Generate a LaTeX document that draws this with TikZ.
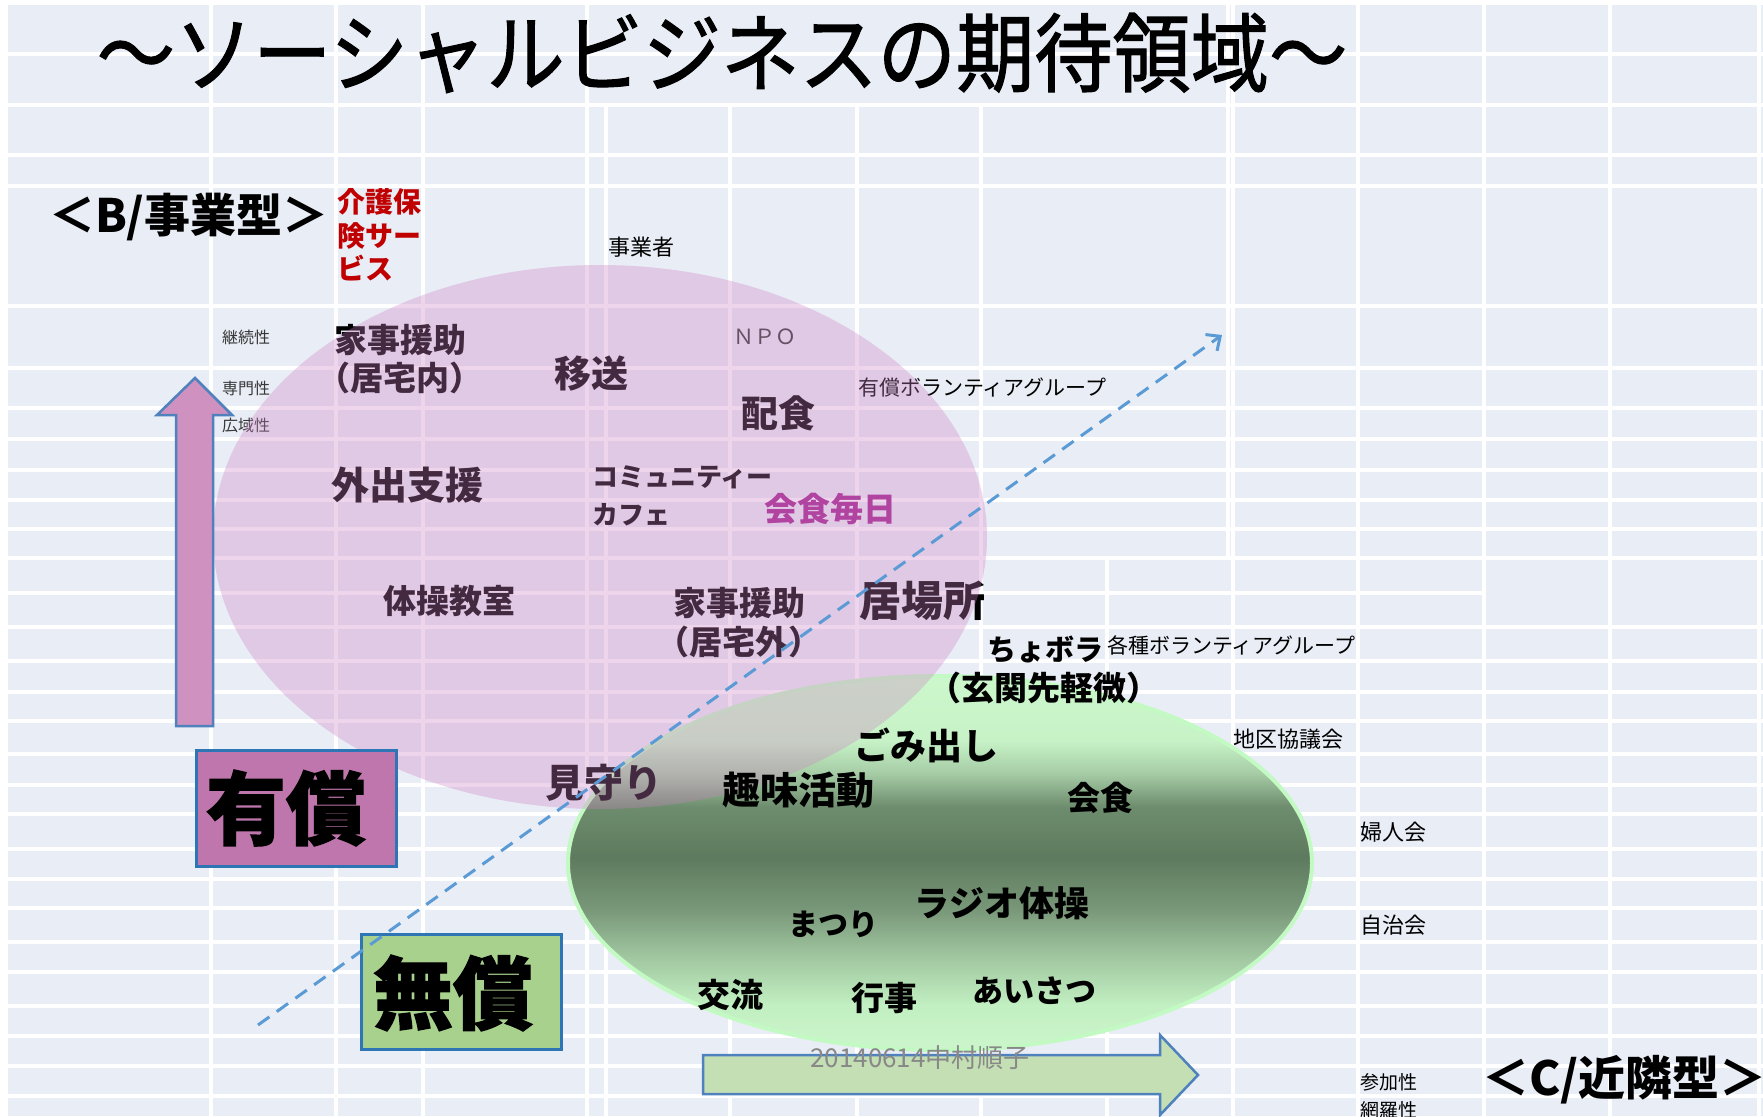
\documentclass[tikz,border=0pt]{standalone}
\usepackage{fontspec}
\setmainfont{Noto Sans CJK JP}
\newfontfamily\heavyjp[FakeBold=1.6]{Noto Sans CJK JP}
\newfontfamily\titlejp[FakeBold=1.3]{Noto Sans CJK JP}
\usetikzlibrary{arrows.meta}
\definecolor{bgc}{RGB}{233,237,246}
\definecolor{pinkell}{RGB}{205,130,195}
\definecolor{redtxt}{RGB}{192,0,0}
\definecolor{magtxt}{RGB}{176,68,160}
\definecolor{uparrowfill}{RGB}{207,145,192}
\definecolor{arrowedge}{RGB}{79,129,189}
\definecolor{boxedge}{RGB}{46,117,182}
\definecolor{paidbox}{RGB}{190,118,172}
\definecolor{freebox}{RGB}{169,209,142}
\definecolor{rarrowfill}{RGB}{196,223,180}
\definecolor{dashblue}{RGB}{91,155,213}
\definecolor{elledge}{RGB}{195,250,195}
\definecolor{smallgray}{RGB}{55,55,55}
\definecolor{dategray}{RGB}{136,136,136}
\pgfdeclareverticalshading{greenell}{100bp}{rgb(0bp)=(0.80,0.96,0.80); rgb(25bp)=(0.80,0.96,0.80); rgb(31bp)=(0.76,0.94,0.76); rgb(37.4bp)=(0.63,0.78,0.63); rgb(44bp)=(0.47,0.59,0.47); rgb(50.8bp)=(0.37,0.48,0.37); rgb(57.5bp)=(0.43,0.55,0.43); rgb(62bp)=(0.65,0.80,0.65); rgb(66.4bp)=(0.78,0.95,0.78); rgb(75bp)=(0.80,0.97,0.80); rgb(100bp)=(0.80,0.97,0.80)}
\newcommand\sz[2]{\fontsize{#1}{#2}\selectfont}
\tikzset{
  tx/.style={inner sep=0pt, outer sep=0pt},
  bx/.style={tx, font=\bfseries},
  small/.style={tx, anchor=west, text=smallgray},
  gridline/.style={white, line width=3.5pt},
  boxstyle/.style={draw=boxedge, line width=2.5pt},
  blockarrow/.style={draw=arrowedge, line width=2.5pt, line join=miter},
  dasharrow/.style={dashblue, line width=3pt, dash pattern=on 14pt off 9pt, -{Straight Barb[length=11pt,width=20pt]}}
}
\begin{document}
\begin{tikzpicture}[x=1pt,y=-1pt]
\useasboundingbox (0,0) rectangle (1763,1116);
% background grid
\fill[white] (0,0) rectangle (1763,1116);
\fill[bgc] (8,5) rectangle (1763,1116);
\begin{scope}[gridline]
  \foreach \y in {54,105,155,186,306,368,408,439,470,500,529,558,627,661,692,721,754,785,814,849,879,908,942,972,1006,1036,1066,1096}
    \draw (8,\y) -- (1763,\y);
  \draw (8,593) -- (1484,593);
  \foreach \x in {211,336,423,587,1233,1358,1484,1610,1759}
    \draw (\x,5) -- (\x,1116);
  \foreach \x in {606,730,857,981}
    \draw (\x,105) -- (\x,1116);
  \draw (1228,5) -- (1228,558);
  \draw (1107,558) -- (1107,1116);
\end{scope}

% green ellipse
\shade[shading=greenell] (940,863) ellipse [x radius=372, y radius=187];
\draw[elledge, line width=4pt] (940,863) ellipse [x radius=372, y radius=187];

% small labels (under pink)
\node[small, font=\sz{16}{18}] (keizoku) at (222,337) {継続性};
\node[small, font=\sz{16}{18}] (senmon) at (222,388) {専門性};
\node[small, font=\sz{16}{18}] (koiki) at (222,425) {広域性};
\node[tx, text=smallgray, font=\sz{21}{24}] (npo) at (765,337) {ＮＰＯ};
\node[tx, anchor=west, font=\sz{21}{24}] (yushovg) at (858,388) {有償ボランティアグループ};

% bold labels inside pink (under pink)
\node[bx, align=center, font=\sz{33}{38}\bfseries] (kajinai) at (400,359) {家事援助\\（居宅内）};
\node[bx, font=\sz{37}{40}\bfseries] (iso) at (591,374) {移送};
\node[bx, font=\sz{37}{40}\bfseries] (haishoku) at (778,413) {配食};
\node[bx, font=\sz{38}{40}\bfseries] (gaishutsu) at (407,485) {外出支援};
\node[bx, anchor=west, align=left, font=\sz{26}{38}\bfseries] (cafe) at (592,496) {コミュニティー\\カフェ};
\node[bx, font=\sz{33}{36}\bfseries] (taiso) at (449,601) {体操教室};
\node[bx, align=center, font=\sz{33}{39}\bfseries] (kajigai) at (739,623) {家事援助\\（居宅外）};
\node[bx, font=\sz{42}{44}\bfseries] (ibasho) at (922,601) {居場所};
\node[bx, font=\sz{39}{42}\bfseries] (mimamori) at (604,783) {見守り};

% pink ellipse
\fill[pinkell, opacity=0.33] (600,537) ellipse [x radius=387, y radius=272];

% title and headings
\node[tx, font=\titlejp\sz{86}{88}, xscale=0.91, transform shape] (title) at (722,53) {～ソーシャルビジネスの期待領域～};
\node[bx, anchor=west, font=\sz{46}{48}\bfseries] (btype) at (49,217) {＜B/事業型＞};
\node[bx, anchor=west, font=\sz{47}{48}\bfseries] (ctype) at (1482,1080) {＜C/近隣型＞};
\node[bx, anchor=west, align=left, text=redtxt, font=\sz{28}{33.5}\bfseries] (kaigo) at (337,235) {介護保\\険サー\\ビス};
\node[tx, font=\sz{22}{24}] (jigyosha) at (641,247) {事業者};

% labels on top
\node[bx, text=magtxt, font=\sz{33}{36}\bfseries] (kaishokumai) at (830,509) {会食毎日};
\node[bx, font=\sz{29}{32}\bfseries] (choborra) at (1045,650) {ちょボラ};
\node[tx, anchor=west, font=\sz{21}{24}] (kakushu) at (1107,645) {各種ボランティアグループ};
\node[bx, font=\sz{33}{36}\bfseries] (genkan) at (1044,688) {（玄関先軽微）};
\node[tx, anchor=west, font=\sz{22}{24}] (chiku) at (1233,739) {地区協議会};
\node[tx, anchor=west, font=\sz{22}{24}] (fujin) at (1360,832) {婦人会};
\node[tx, anchor=west, font=\sz{22}{24}] (jichi) at (1360,925) {自治会};
\node[tx, anchor=west, font=\sz{19}{21}] (sanka) at (1360,1082) {参加性};
\node[tx, anchor=west, font=\sz{19}{21}] (moura) at (1360,1110) {網羅性};

\node[bx, font=\sz{36}{40}\bfseries] (gomi) at (926,745) {ごみ出し};
\node[bx, font=\sz{38}{40}\bfseries] (shumi) at (798,790) {趣味活動};
\node[bx, font=\sz{33}{36}\bfseries] (kaishoku) at (1100,798) {会食};
\node[bx, font=\sz{35}{38}\bfseries] (radio) at (1002,903) {ラジオ体操};
\node[bx, font=\sz{30}{32}\bfseries] (matsuri) at (833,924) {まつり};
\node[bx, font=\sz{33}{36}\bfseries] (koryu) at (730,995) {交流};
\node[bx, font=\sz{33}{36}\bfseries] (gyoji) at (884,998) {行事};
\node[bx, font=\sz{31}{34}\bfseries] (aisatsu) at (1034,991) {あいさつ};

% up arrow
\draw[blockarrow, fill=uparrowfill] (176,726) -- (176,415) -- (157,415) -- (195,378) -- (232,415) -- (213,415) -- (213,726) -- cycle;
% right arrow
\draw[blockarrow, fill=rarrowfill] (703,1055) -- (1160,1055) -- (1160,1035) -- (1198,1075) -- (1160,1115) -- (1160,1094) -- (703,1094) -- cycle;

% paid / free boxes
\node[boxstyle, fill=paidbox, minimum width=200pt, minimum height=116pt, anchor=north west, inner sep=0pt] (paidbox) at (195,749) {};
\node[tx, font=\heavyjp\sz{80}{82}\bfseries] (paidtxt) at (286,808) {有償};
\node[boxstyle, fill=freebox, minimum width=200pt, minimum height=115pt, anchor=north west, inner sep=0pt] (freebox) at (360,933) {};
\node[tx, font=\heavyjp\sz{80}{82}\bfseries] (freetxt) at (453,993) {無償};

% dashed arrow
\coordinate (dashS) at (258,1025);
\coordinate (dashE) at (1222,335);
\draw[dasharrow] (dashS) -- (dashE);

% date text
\node[tx, text=dategray, font=\sz{26}{28}] (date) at (920,1058) {20140614中村順子};
\end{tikzpicture}
\end{document}
